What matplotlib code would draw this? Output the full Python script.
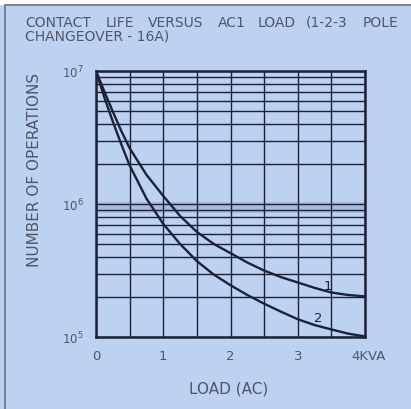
import matplotlib
matplotlib.use("Agg")
import matplotlib.pyplot as plt
import matplotlib.transforms as mtransforms
from matplotlib.ticker import LogLocator, NullFormatter, MultipleLocator
from matplotlib.patches import Rectangle

# values
load_kva = [0, 0.125, 0.25, 0.375, 0.5, 0.75, 1, 1.25, 1.5, 1.75, 2, 2.25,
            2.5, 2.75, 3, 3.25, 3.5, 3.75, 4]
ops_curve1 = [1.0e7, 7.0e6, 4.95e6, 3.55e6, 2.63e6, 1.66e6, 1.15e6, 8.13e5,
              6.17e5, 5.01e5, 4.27e5, 3.63e5, 3.16e5, 2.82e5, 2.57e5, 2.34e5,
              2.16e5, 2.07e5, 2.02e5]
ops_curve2 = [1.0e7, 6.31e6, 4.17e6, 2.82e6, 1.95e6, 1.10e6, 7.08e5, 5.01e5,
              3.72e5, 2.95e5, 2.45e5, 2.07e5, 1.78e5, 1.55e5, 1.36e5, 1.23e5,
              1.14e5, 1.06e5, 1.01e5]
x_ticks = [0, 1, 2, 3, 4]
x_labels = ["0", "1", "2", "3", "4KVA"]
y_ticks = [1e5, 1e6, 1e7]
y_labels = [r"$10^5$", r"$10^6$", r"$10^7$"]
title_line1 = ["CONTACT", "LIFE", "VERSUS", "AC1", "LOAD", "(1-2-3", "POLE"]
title_line2 = "CHANGEOVER - 16A)"

bg = "#bdd1f1"
ink = "#1b2238"
grey = "#50566a"

plt.rcParams["font.family"] = ["DejaVu Sans"]

fig = plt.figure(figsize=(4.11, 4.10), dpi=100)
fig.patch.set_facecolor(bg)

# scanned frame along top and left edge
fig.patches.append(Rectangle((0, 0.986), 1, 0.014, transform=fig.transFigure,
                             facecolor="white", edgecolor="none"))
fig.patches.append(Rectangle((0.010, 0.0), 0.005, 0.988, transform=fig.transFigure,
                             facecolor="#7d828c", edgecolor="none"))
fig.patches.append(Rectangle((0.010, 0.982), 0.990, 0.006, transform=fig.transFigure,
                             facecolor="#7d828c", edgecolor="none"))

ax = fig.add_axes([96 / 411, 1 - 338 / 410, 269 / 411, 266 / 410])
ax.set_facecolor(bg)
ax.set_yscale("log")
ax.set_xlim(0, 4)
ax.set_ylim(1e5, 1e7)

# faded printing band around 10^6
ax.axhspan(8.6e5, 1.04e6, color="#9aaccc", alpha=0.6, lw=0, zorder=0.5)

ax.plot(load_kva, ops_curve1, color=ink, lw=1.7, solid_capstyle="round",
        solid_joinstyle="round")
ax.plot(load_kva, ops_curve2, color=ink, lw=1.7, solid_capstyle="round",
        solid_joinstyle="round")
ax.text(3.44, 2.45e5, "1", fontsize=9.5, color=ink, ha="center", va="center")
ax.text(3.30, 1.41e5, "2", fontsize=9.5, color=ink, ha="center", va="center")

ax.xaxis.set_minor_locator(MultipleLocator(0.5))
ax.yaxis.set_minor_locator(LogLocator(base=10, subs=range(2, 10)))
ax.yaxis.set_minor_formatter(NullFormatter())
ax.grid(True, which="both", axis="both", color=ink, lw=1.0)
ax.set_xticks(x_ticks)
ax.set_xticklabels(x_labels)
ax.set_yticks(y_ticks)
ax.set_yticklabels(y_labels)
ax.tick_params(which="both", length=0, colors=grey)
ax.tick_params(axis="x", pad=9, labelsize=9.5)
ax.tick_params(axis="y", pad=9, labelsize=8.5)
shift = mtransforms.ScaledTranslation(4 / 100, 0, fig.dpi_scale_trans)
last = ax.get_xticklabels()[-1]
last.set_transform(last.get_transform() + shift)
for s in ax.spines.values():
    s.set_color(ink)
    s.set_linewidth(1.8)

# heading words sit at their printed positions (pixels from the left)
word_left = [25, 106, 148, 218, 258, 306, 363]
for w, px in zip(title_line1, word_left):
    fig.text(px / 411, 1 - 23 / 410, w, fontsize=10, color=grey,
             ha="left", va="center")
fig.text(25 / 411, 1 - 37 / 410, title_line2, fontsize=10, color=grey,
         ha="left", va="center")

fig.text(35 / 411, 1 - 170 / 410, "NUMBER OF OPERATIONS", rotation=90,
         fontsize=11, color=grey, ha="center", va="center")
fig.text(229 / 411, 1 - 389 / 410, "LOAD (AC)",
         fontsize=11, color=grey, ha="center", va="center")

fig.savefig("out.png", dpi=100, facecolor=fig.get_facecolor())
